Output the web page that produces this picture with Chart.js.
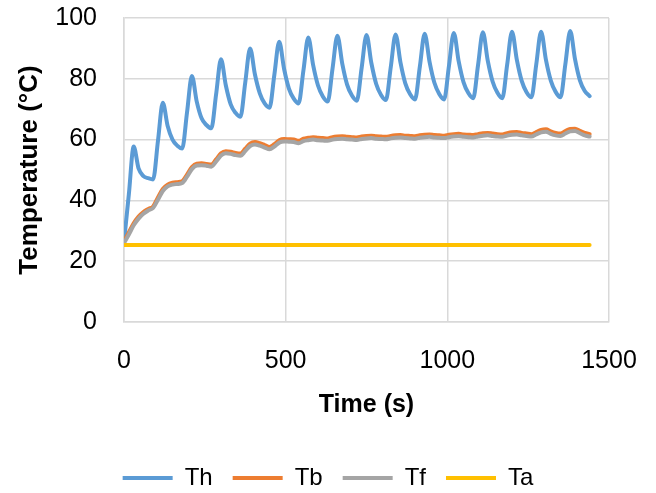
<!DOCTYPE html>
<html>
<head>
<meta charset="utf-8">
<script src="https://cdn.jsdelivr.net/npm/chart.js@4.4.1/dist/chart.umd.min.js"></script>
<style>
  html, body { margin: 0; padding: 0; background: #ffffff; }
  #wrap { width: 656px; height: 493px; }
</style>
</head>
<body>
<div id="wrap"><canvas id="c" width="656" height="493"></canvas></div>
<script>
// Time (s)
const times = [0,15,30,45,60,75,90,105,120,135,150,165,180,195,210,225,240,255,270,285,300,315,330,345,360,375,390,405,420,435,450,465,480,495,510,525,540,555,570,585,600,615,630,645,660,675,690,705,720,735,750,765,780,795,810,825,840,855,870,885,900,915,930,945,960,975,990,1005,1020,1035,1050,1065,1080,1095,1110,1125,1140,1155,1170,1185,1200,1215,1230,1245,1260,1275,1290,1305,1320,1335,1350,1365,1380,1395,1410,1425,1440];
// Heater temperature Th (°C)
const th = [26.4,42,57.7,50.5,48,47.3,46.9,59.5,72.1,64.5,60,58,57.1,69,80.9,72.5,67,64.8,63.7,75,86.4,77.8,71.6,68.8,67.5,78.8,90.0,81.4,75.2,71.9,70.5,81.3,92.2,83.3,76.8,73.5,71.9,82.8,93.6,84.5,77.8,74.2,72.5,83.4,94.2,85,78.1,74.5,72.8,83.6,94.4,85.2,78.3,74.7,73.0,83.8,94.6,85.4,78.5,74.9,73.2,84,94.8,85.6,78.7,75,73.2,84.2,95.1,85.8,78.9,75.3,73.6,84.5,95.3,86,79.1,75.4,73.6,84.6,95.5,86.2,79.3,75.6,73.9,84.7,95.5,86.2,79.4,75.7,73.9,84.8,95.7,86.4,79.5,76,74.3];
// Tb (°C)
const tb = [26.4,29.5,32.5,34.7,36.2,37.2,38,41,43.8,45.2,45.8,46,46.3,48.5,51,52.1,52.2,52,51.8,53.5,55.5,56.2,56,55.6,55.4,57,58.7,59.2,58.8,58.2,57.6,58.5,59.8,60.2,60.1,60,59.6,60.3,60.6,60.8,60.6,60.5,60.4,60.8,61,61.1,60.9,60.8,60.7,61,61.2,61.3,61.1,61,60.9,61.2,61.4,61.5,61.3,61.2,61.1,61.4,61.6,61.7,61.5,61.4,61.3,61.6,61.8,61.9,61.7,61.6,61.5,61.8,62.1,62.2,62,61.8,61.7,62.1,62.4,62.5,62.2,62,61.8,62.5,63.2,63.4,62.7,62.2,62.0,62.8,63.5,63.6,62.9,62.2,61.8];
// Tf (°C)
const tf = [26.0,28.8,31.8,34.0,35.6,36.7,37.5,40.2,43.1,44.6,45.2,45.4,45.7,47.8,50.3,51.5,51.6,51.4,51.1,52.8,54.8,55.5,55.3,54.9,54.7,56.2,57.9,58.4,58.0,57.4,56.8,57.7,59.0,59.4,59.3,59.2,58.8,59.5,59.8,60.0,59.8,59.7,59.6,60.0,60.2,60.3,60.1,60.0,59.9,60.2,60.4,60.5,60.3,60.2,60.1,60.4,60.6,60.7,60.5,60.4,60.3,60.6,60.8,60.9,60.7,60.6,60.5,60.8,61.0,61.1,60.9,60.8,60.7,61.0,61.3,61.4,61.2,61.0,60.9,61.3,61.6,61.7,61.4,61.2,61.0,61.7,62.4,62.6,61.9,61.4,61.2,62.0,62.7,62.8,62.1,61.4,61.0];
// Ambient Ta (°C)
const taTimes = [0, 1440];
const ta = [25.3, 25.3];

const seriesNames = ['Th', 'Tb', 'Tf', 'Ta'];
const xTicks = [0, 500, 1000, 1500];
const yTicks = [0, 20, 40, 60, 80, 100];

const FONT = '"Liberation Sans", Arial, sans-serif';
const toXY = (xs, ys) => xs.map((x, i) => ({x: x, y: ys[i]}));

const legendPatch = {
  id: 'legendPatch',
  beforeLayout(chart) {
    const lg = chart.legend;
    if (lg && !lg._patched) {
      const orig = lg.fit;
      lg.fit = function () { orig.call(this); this.height = 47; };
      lg._patched = true;
    }
  }
};

const common = { pointRadius: 0, pointHoverRadius: 0, borderWidth: 4, fill: false,
  cubicInterpolationMode: 'monotone', borderCapStyle: 'round', borderJoinStyle: 'round' };

new Chart(document.getElementById('c'), {
  type: 'line',
  data: {
    datasets: [
      Object.assign({ label: seriesNames[0], data: toXY(times, th), borderColor: '#5B9BD5', backgroundColor: '#5B9BD5', order: 4 }, common),
      Object.assign({ label: seriesNames[1], data: toXY(times, tb), borderColor: '#ED7D31', backgroundColor: '#ED7D31', order: 3 }, common),
      Object.assign({ label: seriesNames[2], data: toXY(times, tf), borderColor: '#A5A5A5', backgroundColor: '#A5A5A5', order: 2 }, common),
      Object.assign({ label: seriesNames[3], data: toXY(taTimes, ta), borderColor: '#FFC000', backgroundColor: '#FFC000', order: 1 }, common)
    ]
  },
  options: {
    responsive: false,
    animation: false,
    devicePixelRatio: 1,
    layout: { padding: { top: 18, left: 0, right: 0, bottom: 0 } },
    plugins: {
      tooltip: { enabled: false },
      legend: {
        position: 'bottom',
        labels: {
          usePointStyle: true,
          pointStyle: 'line',
          pointStyleWidth: 50,
          padding: 20,
          color: '#000',
          font: { family: FONT, size: 24 },
          sort: (a, b) => a.datasetIndex - b.datasetIndex
        }
      }
    },
    scales: {
      x: {
        type: 'linear',
        min: 0, max: 1500,
        afterBuildTicks(scale) { scale.ticks = xTicks.map(v => ({ value: v })); },
        afterFit(scale) { scale.height = 124; scale.paddingRight = 47; scale.paddingLeft = 0; },
        ticks: { color: '#000', padding: 24, font: { family: FONT, size: 25 }, maxRotation: 0,
                 callback: (v) => String(v) },
        grid: { color: '#d9d9d9', lineWidth: 1.5, drawTicks: false },
        border: { color: '#d9d9d9', width: 1.5 },
        title: { display: true, text: 'Time (s)', color: '#000', font: { family: FONT, size: 25, weight: 'bold' }, padding: { top: 0, bottom: 26 } }
      },
      y: {
        min: 0, max: 100,
        afterBuildTicks(scale) { scale.ticks = yTicks.map(v => ({ value: v })); },
        afterFit(scale) { scale.width = 124; scale.paddingTop = 0; scale.paddingBottom = 0; },
        ticks: { color: '#000', padding: 27, font: { family: FONT, size: 25 }, callback: (v) => String(v) },
        grid: { color: '#d9d9d9', lineWidth: 1.5, drawTicks: false },
        border: { color: '#d9d9d9', width: 1.5 },
        title: { display: true, text: 'Temperature (°C)', color: '#000', font: { family: FONT, size: 26, weight: 'bold' }, padding: { top: 14, bottom: 0 } }
      }
    }
  },
  plugins: [legendPatch]
});
</script>
</body>
</html>
